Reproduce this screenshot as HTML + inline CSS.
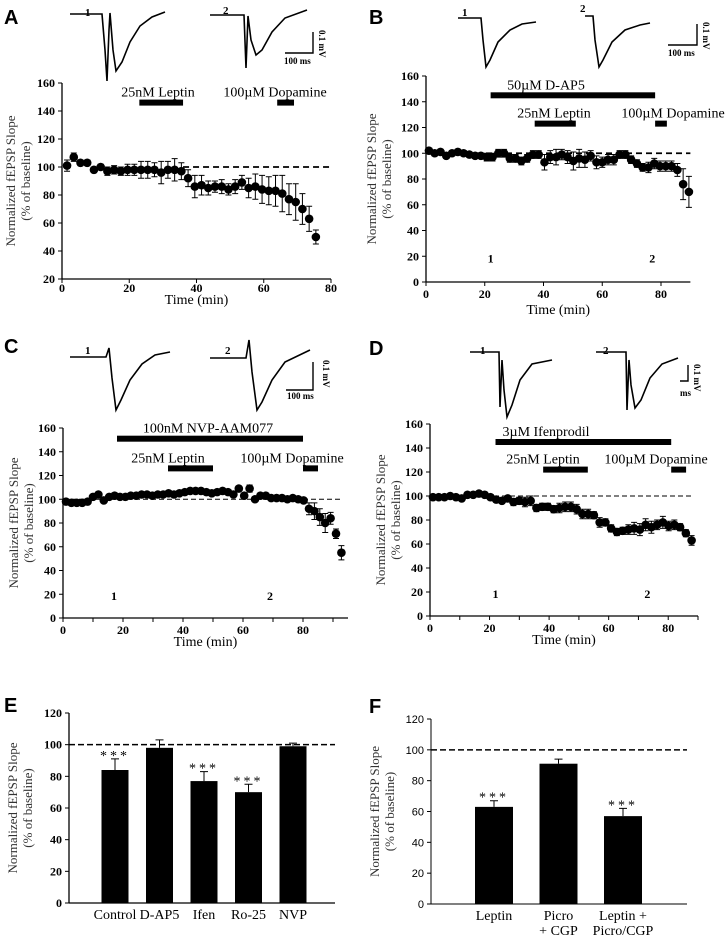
<!DOCTYPE html>
<html><head><meta charset="utf-8"><style>
body{margin:0;background:#fff}
svg{display:block}
.t{font-family:"Liberation Serif",serif;font-size:12px;font-weight:bold;fill:#000}
.lab{font-family:"Liberation Serif",serif;font-size:14px;fill:#000}
.yt{font-family:"Liberation Serif",serif;font-size:13px;fill:#333}
.let{font-family:"Liberation Sans",sans-serif;font-size:20px;font-weight:bold}
.sm{font-family:"Liberation Serif",serif;font-size:9px;font-weight:bold}
.sans{font-family:"Liberation Sans",sans-serif;font-size:11px;fill:#000}
</style></head><body>
<svg id="fig" width="728" height="937" viewBox="0 0 728 937" xmlns="http://www.w3.org/2000/svg">
<text class="let" x="4" y="24">A</text>
<text class="let" x="369" y="24">B</text>
<text class="let" x="4" y="353">C</text>
<text class="let" x="369" y="355">D</text>
<text class="let" x="4" y="712">E</text>
<text class="let" x="369" y="713">F</text>
<g fill="none" stroke="#000" stroke-width="1.6">
<path d="M70 14 L102 14 L105 50 L107 81 L109 30 L110 13 L113 50 L116 71 L122 62 L130 42 L140 26 L152 17 L165 12"/>
<path d="M210 15 L244 15 L246 68 L248 16 L251 40 L256 55 L262 50 L272 32 L285 18 L307 10"/>
<path d="M458 18 L481 18 L483 40 L486 67 L490 60 L498 42 L510 30 L522 24 L536 22"/>
<path d="M585 16 L593 16 L595 40 L599 67 L603 60 L612 42 L625 30 L640 25 L650 23"/>
<path d="M70 357 L106 357 L109 348 L112 378 L116 410 L121 400 L130 380 L142 364 L155 355 L170 352"/>
<path d="M210 358 L246 358 L249 340 L252 372 L257 410 L262 402 L272 380 L285 362 L310 350"/>
<path d="M470 352 L499 352 L500 407 L502 360 L504 390 L507 417 L512 405 L520 380 L532 364 L552 360"/>
<path d="M596 352 L626 352 L627 410 L629 360 L631 385 L635 408 L641 400 L650 378 L662 364 L678 358"/>
</g>
<g fill="none" stroke="#000" stroke-width="1.4">
<path d="M313 32 L313 53 L285 53"/><path d="M697 24 L697 45 L668 45"/>
<path d="M313 362 L313 390 L286 390"/><path d="M688 365 L688 381 L680 381"/>
</g>
<g class="sm">
<text x="85" y="16" font-size="11">1</text><text x="223" y="14" font-size="11">2</text>
<text x="462" y="16" font-size="11">1</text><text x="580" y="12" font-size="11">2</text>
<text x="85" y="354" font-size="11">1</text><text x="225" y="354" font-size="11">2</text>
<text x="480" y="354" font-size="11">1</text><text x="603" y="354" font-size="11">2</text>
<text x="284" y="64">100 ms</text><text x="668" y="56">100 ms</text><text x="287" y="399">100 ms</text><text x="680" y="396">ms</text>
<text transform="translate(319,30) rotate(90)">0.1 mV</text><text transform="translate(703,22) rotate(90)">0.1 mV</text>
<text transform="translate(323,360) rotate(90)">0.1 mV</text><text transform="translate(694,364) rotate(90)">0.1 mV</text>
</g>
<g id="charts"></g>
</svg>
<script>
// ---- Panel A data ----
const aTimes=[1.5,3.5,5.5,7.5,9.5,11.5,13.5,15.5,17.5,19.5,21.5,23.5,25.5,27.5,29.5,31.5,33.5,35.5,37.5,39.5,41.5,43.5,45.5,47.5,49.5,51.5,53.5,55.5,57.5,59.5,61.5,63.5,65.5,67.5,69.5,71.5,73.5,75.5];
const aValues=[101,107,103,103,98,100,97,98,97,98,98,98,98,98,96,98,98,97,92,86,87,85,86,86,84,86,89,85,86,84,83,83,81,77,75,70,63,50];
const aErrors=[4,3,2,2,2,2,3,3,3,4,4,6,6,5,8,6,8,6,6,8,7,5,4,5,4,5,5,7,9,10,10,11,13,11,13,11,9,5];
// ---- Panel B data ----
const bValues=[102,100,101,98,100,101,100,99,98,98,97,97,100,100,96,96,94,96,99,99,93,97,97,99,97,94,96,95,98,93,93,95,95,99,99,95,92,89,89,92,90,90,90,87,76,70];
const bErrors=[2,2,2,2,2,2,2,2,2,2,3,3,3,3,3,3,3,3,3,3,6,5,6,4,5,7,7,6,4,5,4,4,4,3,3,3,3,3,4,4,4,4,4,5,12,12];
// ---- Panel C data ----
const cValues=[98,97,97,97,98,102,104,99,102,103,102,102,103,103,104,104,103,104,104,105,104,105,106,107,107,107,106,105,106,107,106,104,109,103,109,100,103,103,101,101,101,100,101,100,99,92,90,85,80,84,71,55];
const cErrors=[1,1,1,1,1,1,1,1,1,1,1,1,1,1,1,1,1,1,1,1,1,1,1,1,1,1,1,1,1,1,1,1,2,2,3,2,1,1,1,1,1,1,1,1,2,5,7,7,8,5,4,6];
// ---- Panel D data ----
const dValues=[99,99,99,100,99,98,101,101,102,101,99,97,96,98,95,96,95,96,90,91,91,89,90,91,91,89,85,85,84,78,78,73,70,71,72,73,72,76,74,76,78,75,76,74,69,63];
const dErrors=[2,2,2,2,2,2,2,2,2,2,2,2,2,2,3,3,4,4,3,3,3,3,4,4,4,4,4,4,3,4,3,3,3,3,4,5,5,5,5,4,5,4,4,3,3,4];
// ---- Panel E data ----
const eCats=["Control","D-AP5","Ifen","Ro-25","NVP"];
const eValues=[84,98,77,70,99];
const eErrors=[7,5,6,5,2];
const eSig=[true,false,true,true,false];
// ---- Panel F data ----
const fCats=[["Leptin"],["Picro","+ CGP"],["Leptin +","Picro/CGP"]];
const fValues=[63,91,57];
const fErrors=[4,3,5];
const fSig=[true,false,true];

const NS="http://www.w3.org/2000/svg";
const root=document.getElementById('charts');
function el(tag,attrs,parent,txt){const e=document.createElementNS(NS,tag);for(const k in attrs)e.setAttribute(k,attrs[k]);if(txt!==undefined)e.textContent=txt;(parent||root).appendChild(e);return e;}

function timeChart(p){
  const g=el('g',{});
  
  
  const X=t=>p.x0+(t-p.t0)*(p.x1-p.x0)/(p.t1-p.t0);
  const Y=v=>p.y0+(v-p.v0)*(p.y1-p.y0)/(p.v1-p.v0);
  const yb=Y(p.v0);
  el('line',{x1:X(p.t0),y1:yb,x2:X(p.tMax),y2:yb,stroke:'#000','stroke-width':1.3},g);
  el('line',{x1:X(p.t0),y1:yb,x2:X(p.t0),y2:Y(p.vTop),stroke:'#000','stroke-width':1.3},g);
  for(let v=p.v0;v<=p.vTop;v+=20){
    el('line',{x1:X(p.t0)-4,x2:X(p.t0),y1:Y(v),y2:Y(v),stroke:'#000'},g);
    el('text',{class:'t',x:X(p.t0)-7,y:Y(v)+4,'text-anchor':'end'},g,String(v));
  }
  for(const t of p.xticks){
    el('line',{x1:X(t),x2:X(t),y1:yb,y2:yb+4,stroke:'#000'},g);
    if(t%20===0) el('text',{class:'t',x:X(t),y:yb+p.lo,'text-anchor':'middle'},g,String(t));
  }
  el('text',{class:'lab',x:(X(p.t0)+X(p.tMax))/2,y:yb+p.to,'text-anchor':'middle'},g,'Time (min)');
  const cy=(Y(p.v0)+Y(p.vTop))/2, ax=X(p.t0);
  el('text',{class:'yt',transform:`translate(${ax-p.yo} ${cy}) rotate(-90)`,'text-anchor':'middle'},g,'Normalized fEPSP Slope');
  el('text',{class:'yt',transform:`translate(${ax-p.yo+15} ${cy}) rotate(-90)`,'text-anchor':'middle'},g,'(% of baseline)');
  const dl=el('line',{x1:X(p.dash[0]),x2:X(p.dash[1]),y1:Y(100),y2:Y(100),stroke:'#000','stroke-width':p.dashW,'stroke-dasharray':p.dashW>1.5?'6 4':'5 3'},g);
  
  
  for(const b of p.bars){
    const r=el('rect',{x:X(b.s),y:Y(b.v)-3,width:X(b.e)-X(b.s),height:6,fill:'#000'},g);
    
    
    el('text',{class:'lab',x:b.tx,y:Y(b.v)-6,'text-anchor':'middle'},g,b.label);
  }
  for(const m of p.marks){el('text',{class:'t','font-size':13,x:X(m[0]),y:Y(m[1]),'text-anchor':'middle'},g,m[2]);}
  for(let i=0;i<p.vals.length;i++){
    const t=p.times[i],v=p.vals[i],e=p.errs[i];
    const eb=el('path',{d:`M${X(t)} ${Y(v+e)}V${Y(v-e)}M${X(t)-3} ${Y(v+e)}h6M${X(t)-3} ${Y(v-e)}h6`,stroke:'#000','stroke-width':1,fill:'none'},g);
    
    
    const c=el('circle',{cx:X(t),cy:Y(v),r:4.3,fill:'#000'},g);
    
    
  }
}
const bTimes=bValues.map((_,i)=>1+2*i*88.5/90);
const cTimes=cValues.map((_,i)=>1+1.8*i);
const dTimes=dValues.map((_,i)=>1+1.93*i);

timeChart({name:'chart-a',x0:62,x1:331,t0:0,t1:80,tMax:80,y0:279,y1:83,v0:20,v1:160,vTop:160,xticks:[0,20,40,60,80],yo:47,lo:13,to:25,
  times:aTimes,vals:aValues,errs:aErrors,dash:[36,80],dashW:1.8,
  bars:[{s:23,e:36,v:146,label:'25nM Leptin',tx:158},{s:64,e:69,v:146,label:'100µM Dopamine',tx:275}],marks:[]});
timeChart({name:'chart-b',x0:426,x1:661,t0:0,t1:80,tMax:90,y0:282,y1:76,v0:0,v1:160,vTop:160,xticks:[0,20,40,60,80],yo:50,lo:16,to:32,
  times:bTimes,vals:bValues,errs:bErrors,dash:[0,90],dashW:1.8,
  bars:[{s:22,e:78,v:145,label:'50µM D-AP5',tx:546},{s:37,e:51,v:123,label:'25nM Leptin',tx:554},{s:78,e:82,v:123,label:'100µM Dopamine',tx:673}],
  marks:[[22,15,'1'],[77,15,'2']]});
timeChart({name:'chart-c',x0:63,x1:333,t0:0,t1:90,tMax:95,y0:618,y1:428,v0:0,v1:160,vTop:160,xticks:[0,10,20,30,40,50,60,70,80,90],yo:45,lo:16,to:28,
  times:cTimes,vals:cValues,errs:cErrors,dash:[0,93],dashW:1,
  bars:[{s:18,e:80,v:151,label:'100nM NVP-AAM077',tx:208},{s:35,e:50,v:126,label:'25nM Leptin',tx:168},{s:80,e:85,v:126,label:'100µM Dopamine',tx:292}],
  marks:[[17,15,'1'],[69,15,'2']]});
timeChart({name:'chart-d',x0:430,x1:698,t0:0,t1:90,tMax:90,y0:616,y1:424,v0:0,v1:160,vTop:160,xticks:[0,10,20,30,40,50,60,70,80,90],yo:45,lo:16,to:28,
  times:dTimes,vals:dValues,errs:dErrors,dash:[0,88],dashW:1,
  bars:[{s:22,e:81,v:145,label:'3µM Ifenprodil',tx:546},{s:38,e:53,v:122,label:'25nM Leptin',tx:543},{s:81,e:86,v:122,label:'100µM Dopamine',tx:656}],
  marks:[[22,15,'1'],[73,15,'2']]});

function barChart(p){
  const g=el('g',{});
  
  
  const Y=v=>p.y0-(v)*(p.y0-p.y120)/120;
  el('line',{x1:p.ax,x2:p.ax,y1:p.y0,y2:Y(120),stroke:'#000','stroke-width':p.sans?1:1.3},g);
  el('line',{x1:p.ax,x2:p.axEnd,y1:p.y0,y2:p.y0,stroke:'#000','stroke-width':p.sans?1:1.3},g);
  for(let v=0;v<=120;v+=20){
    el('line',{x1:p.ax-4,x2:p.ax,y1:Y(v),y2:Y(v),stroke:'#000'},g);
    el('text',{class:p.sans?'sans':'t',x:p.ax-7,y:Y(v)+4,'text-anchor':'end'},g,String(v));
  }
  const cy=(p.y0+Y(120))/2;
  el('text',{class:'yt',transform:`translate(${p.ax-p.yo} ${cy}) rotate(-90)`,'text-anchor':'middle'},g,'Normalized fEPSP Slope');
  el('text',{class:'yt',transform:`translate(${p.ax-p.yo+15} ${cy}) rotate(-90)`,'text-anchor':'middle'},g,'(% of baseline)');
  const dl=el('line',{x1:p.ax,x2:p.axEnd,y1:Y(100),y2:Y(100),stroke:'#000','stroke-width':1.5,'stroke-dasharray':'6 3'},g);
  
  
  for(let i=0;i<p.vals.length;i++){
    const cx=p.c0+i*p.step,v=p.vals[i],e=p.errs[i];
    const eb=el('path',{d:`M${cx} ${Y(v)}V${Y(v+e)}M${cx-4} ${Y(v+e)}h8`,stroke:'#000','stroke-width':1,fill:'none'},g);
    
    
    const r=el('rect',{x:cx-p.w/2,y:Y(v),width:p.w,height:p.y0-Y(v),fill:'#000'},g);
    
    
    if(p.sig[i]) el('text',{class:'lab','font-size':18,x:cx,y:Y(v+e)+1,'text-anchor':'middle','letter-spacing':'3'},g,'***');
    const lines=[].concat(p.cats[i]);
    lines.forEach((s,j)=>el('text',{class:'lab','font-size':13,x:cx,y:p.y0+16+j*15,'text-anchor':'middle'},g,s));
  }
}
barChart({name:'chart-e',ax:69,axEnd:335,y0:903,y120:713,c0:115,step:44.5,w:27,vals:eValues,errs:eErrors,sig:eSig,cats:eCats,yo:52});
barChart({name:'chart-f',ax:431,axEnd:687,y0:904,y120:719,c0:494,step:64.5,w:38,vals:fValues,errs:fErrors,sig:fSig,cats:fCats,yo:52,sans:true});
</script>
</body></html>
